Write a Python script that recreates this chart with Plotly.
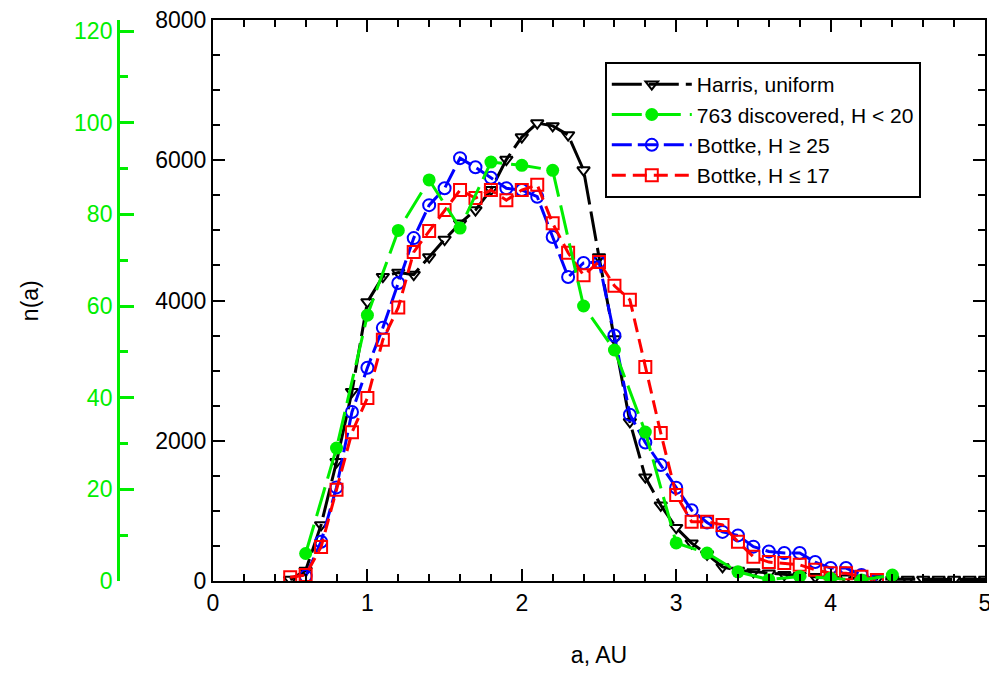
import plotly.graph_objects as go

# ---- data ----
harris_a = [0.5, 0.6, 0.7, 0.8, 0.9, 1.0, 1.1, 1.2, 1.3, 1.4, 1.5, 1.6, 1.7, 1.8, 1.9, 2.0,
            2.1, 2.2, 2.3, 2.4, 2.5, 2.6, 2.7, 2.8, 2.9, 3.0, 3.1, 3.2, 3.3, 3.4, 3.5, 3.6,
            3.7, 3.8, 3.9, 4.0, 4.1, 4.2, 4.3, 4.4, 4.5, 4.6, 4.7, 4.8, 4.9, 5.0]
harris_n = [20, 150, 800, 1700, 2700, 3980, 4340, 4400, 4370, 4620, 4870, 5100, 5290, 5580, 6010, 6330,
            6530, 6490, 6360, 5860, 4620, 3450, 2270, 1480, 1080, 760, 540, 380, 200, 150, 130, 110,
            90, 75, 60, 50, 40, 35, 30, 25, 22, 20, 20, 20, 20, 20]

disc_a = [0.6, 0.8, 1.0, 1.2, 1.4, 1.6, 1.8, 2.0, 2.2, 2.4, 2.6, 2.8, 3.0, 3.2, 3.4, 3.6, 3.8, 4.0, 4.2, 4.4]
disc_n = [6, 29, 58, 76.5, 87.5, 77, 91.4, 90.7, 89.6, 60, 50.4, 32.5, 8.3, 6.1, 2.0, 0.3, 1.0, 0.6, 0.2, 1.3]

b25_a = [0.6, 0.7, 0.8, 0.9, 1.0, 1.1, 1.2, 1.3, 1.4, 1.5, 1.6, 1.7, 1.8, 1.9, 2.0, 2.1, 2.2,
         2.3, 2.4, 2.5, 2.6, 2.7, 2.8, 2.9, 3.0, 3.1, 3.2, 3.3, 3.4, 3.5, 3.6, 3.7, 3.8, 3.9,
         4.0, 4.1, 4.2, 4.3]
b25_n = [70, 560, 1335, 2410, 3040, 3610, 4250, 4890, 5360, 5600, 6030, 5900, 5750, 5600, 5575, 5480, 4905,
         4335, 4535, 4550, 3500, 2370, 1975, 1655, 1330, 1010, 835, 700, 650, 490, 420, 400, 400, 270,
         185, 185, 85, 15]

b17_a = [0.5, 0.6, 0.7, 0.8, 0.9, 1.0, 1.1, 1.2, 1.3, 1.4, 1.5, 1.6, 1.7, 1.8, 1.9, 2.0, 2.1,
         2.2, 2.3, 2.4, 2.5, 2.6, 2.7, 2.8, 2.9, 3.0, 3.1, 3.2, 3.3, 3.4, 3.5, 3.6, 3.7, 3.8,
         3.9, 4.0, 4.1, 4.2, 4.3]
b17_n = [55, 85, 485, 1300, 2120, 2610, 3440, 3900, 4690, 4990, 5290, 5575, 5460, 5575, 5430, 5575, 5650,
         5100, 4680, 4360, 4550, 4210, 4010, 3050, 2110, 1225, 845, 845, 800, 560, 345, 270, 255, 230,
         160, 110, 110, 60, 15]

x_ticks = [0, 1, 2, 3, 4, 5]
y_ticks = [0, 2000, 4000, 6000, 8000]
g_ticks = [0, 20, 40, 60, 80, 100, 120]

GREEN = "#00ee00"
FONT = "Liberation Sans, Arial, sans-serif"

fig = go.Figure()
fig.add_trace(go.Scatter(
    x=harris_a, y=harris_n, name="Harris, uniform", mode="lines+markers",
    line=dict(color="black", width=3, dash="30px,7px"),
    marker=dict(symbol="triangle-down-open", size=11, color="black", line=dict(width=2)),
))
fig.add_trace(go.Scatter(
    x=disc_a, y=disc_n, name="763 discovered, H < 20", mode="lines+markers", yaxis="y2",
    line=dict(color=GREEN, width=3, dash="30px,9px"),
    marker=dict(symbol="circle", size=13, color=GREEN),
))
fig.add_trace(go.Scatter(
    x=b25_a, y=b25_n, name="Bottke, H \u2265 25", mode="lines+markers",
    line=dict(color="#0000ff", width=3, dash="20px,6px"),
    marker=dict(symbol="circle-open", size=12, color="#0000ff", line=dict(width=2)),
))
fig.add_trace(go.Scatter(
    x=b17_a, y=b17_n, name="Bottke, H \u2264 17", mode="lines+markers",
    line=dict(color="#ff0000", width=3, dash="14px,7px"),
    marker=dict(symbol="square-open", size=12, color="#ff0000", line=dict(width=2)),
))

fig.update_layout(
    width=997, height=677,
    margin=dict(l=12, r=20, t=12, b=104, autoexpand=False),
    paper_bgcolor="white", plot_bgcolor="white",
    font=dict(family=FONT, size=23, color="black"),
    showlegend=True,
    legend=dict(
        x=0.606, y=0.925, xanchor="left", yanchor="top",
        bgcolor="white", bordercolor="black", borderwidth=2,
        font=dict(family=FONT, size=21, color="black"),
        tracegroupgap=0, itemwidth=80,
    ),
    xaxis=dict(
        domain=[0.2, 1.0], range=[0, 5], tickvals=x_ticks,
        showgrid=False, zeroline=False,
        showline=True, linecolor="black", linewidth=2, mirror="ticks",
        ticks="inside", ticklen=12, tickwidth=2, tickcolor="black",
        minor=dict(dtick=0.2, ticks="inside", ticklen=7, tickwidth=2, tickcolor="black"),
        title=dict(text="a, AU", standoff=32, font=dict(size=23)),
        tickfont=dict(size=23), ticklabeloverflow="allow",
    ),
    yaxis=dict(
        range=[0, 8000], tickvals=y_ticks,
        showgrid=False, zeroline=False,
        showline=True, linecolor="black", linewidth=2, mirror="ticks",
        ticks="inside", ticklen=12, tickwidth=2, tickcolor="black",
        minor=dict(dtick=500, ticks="inside", ticklen=7, tickwidth=2, tickcolor="black"),
        tickfont=dict(size=23), ticklabeloverflow="allow",
    ),
    yaxis2=dict(
        overlaying="y", anchor="free", position=0.1016, side="left",
        range=[0, 122.4], tickvals=g_ticks,
        showgrid=False, zeroline=False,
        showline=True, linecolor=GREEN, linewidth=3,
        ticks="inside", ticklen=14, tickwidth=3, tickcolor=GREEN,
        minor=dict(dtick=10, ticks="inside", ticklen=8, tickwidth=3, tickcolor=GREEN),
        tickfont=dict(size=23, color=GREEN), ticklabeloverflow="allow",
    ),
    annotations=[dict(
        text="n(a)", xref="paper", yref="paper", x=0.01, y=0.5,
        xanchor="center", yanchor="middle", textangle=-90, showarrow=False,
        font=dict(family=FONT, size=23, color="black"),
    )],
)

fig.write_html("out.html")
